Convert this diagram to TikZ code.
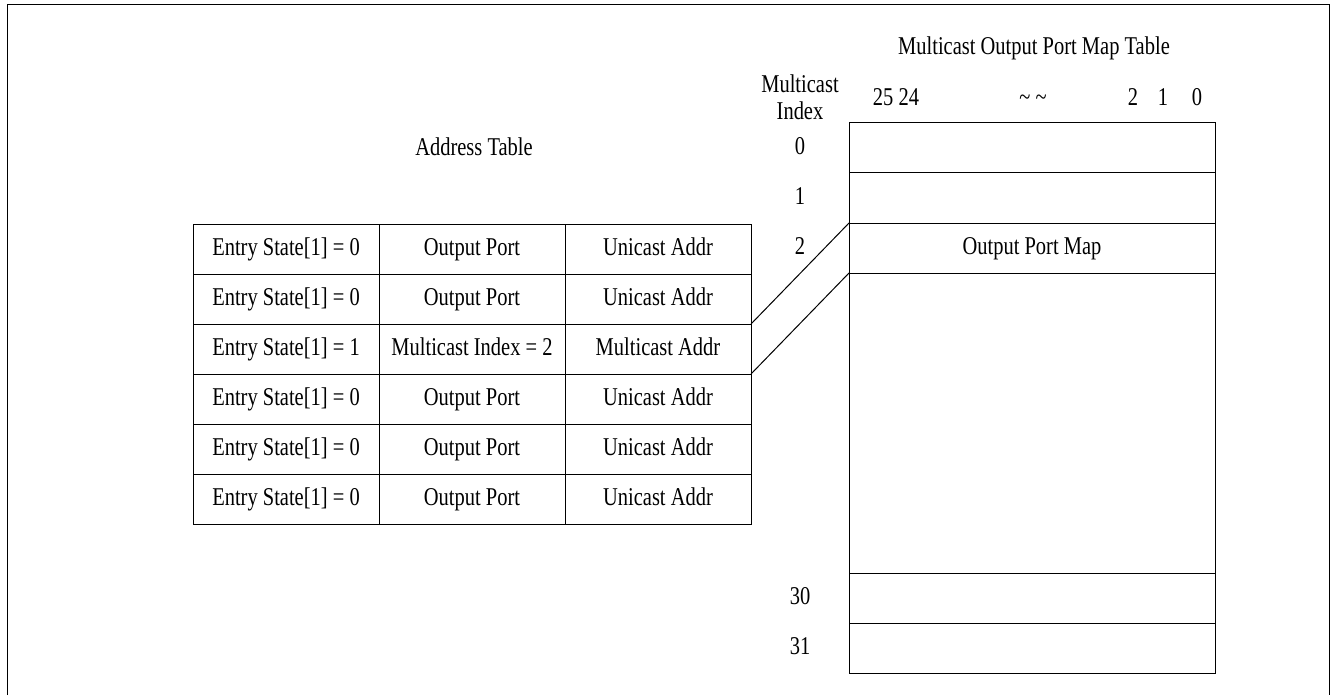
\documentclass[tikz,border=0pt]{standalone}
\usepackage{fontspec}
\setmainfont{Liberation Serif}[FakeStretch=0.8]
\usetikzlibrary{positioning}

\begin{document}
\begin{tikzpicture}[
    x=0.5pt, y=-0.5pt,
    font=\fontsize{12.8}{13.65}\selectfont,
    label/.style={inner sep=0pt, text height=0.8em, text depth=0.14em, align=center},
    cell/.style={label, rectangle, draw, line width=0.5pt, outer sep=0pt,
                 minimum width=93pt, minimum height=25pt},
    mapcell/.style={cell, minimum width=183pt},
    bit/.style={inner sep=0pt, anchor=base},
    link/.style={line width=0.5pt}
]
    \useasboundingbox (0,0) rectangle (1331,695);
    \draw[line width=0.5pt] (7,695) -- (7,5) -- (1329,5) -- (1329,695);

    % address table
    \node[label] (atitle) at (474,149) {Address Table};
    \node[cell] (s1) at (286,249) {Entry State[1] = 0};
    \node[cell, right=0pt of s1] (p1) {Output Port};
    \node[cell, right=0pt of p1] (a1) {Unicast Addr};
    \node[cell, below=0pt of s1] (s2) {Entry State[1] = 0};
    \node[cell, right=0pt of s2] (p2) {Output Port};
    \node[cell, right=0pt of p2] (a2) {Unicast Addr};
    \node[cell, below=0pt of s2] (s3) {Entry State[1] = 1};
    \node[cell, right=0pt of s3] (p3) {Multicast Index = 2};
    \node[cell, right=0pt of p3] (a3) {Multicast Addr};
    \node[cell, below=0pt of s3] (s4) {Entry State[1] = 0};
    \node[cell, right=0pt of s4] (p4) {Output Port};
    \node[cell, right=0pt of p4] (a4) {Unicast Addr};
    \node[cell, below=0pt of s4] (s5) {Entry State[1] = 0};
    \node[cell, right=0pt of s5] (p5) {Output Port};
    \node[cell, right=0pt of p5] (a5) {Unicast Addr};
    \node[cell, below=0pt of s5] (s6) {Entry State[1] = 0};
    \node[cell, right=0pt of s6] (p6) {Output Port};
    \node[cell, right=0pt of p6] (a6) {Unicast Addr};

    % multicast output port map table
    \node[label] (mtitle) at (1034,48) {Multicast Output Port Map Table};
    \node[inner sep=0pt, align=center] (mindex) at (800,97.5) {Multicast\\Index};
    \node[bit] (b25) at (896,106) {25 24};
    \node[bit] (btilde) at (1033,106) {\textasciitilde\ \textasciitilde};
    \node[bit] (b2) at (1133,106) {2};
    \node[bit] (b1) at (1163,106) {1};
    \node[bit] (b0) at (1197,106) {0};
    \node[mapcell] (m0) at (1032,148) {};
    \node[mapcell, below=0pt of m0] (m1) {};
    \node[mapcell, below=0pt of m1] (m2) {Output Port Map};
    \node[mapcell, below=0pt of m2, minimum height=150pt] (mgap) {};
    \node[mapcell, below=0pt of mgap] (m30) {};
    \node[mapcell, below=0pt of m30] (m31) {};
    \node[label] (i0) at (mindex |- m0) {0};
    \node[label] (i1) at (mindex |- m1) {1};
    \node[label] (i2) at (mindex |- m2) {2};
    \node[label] (i30) at (mindex |- m30) {30};
    \node[label] (i31) at (mindex |- m31) {31};

    \draw[link] (a3.north east) -- (m2.north west);
    \draw[link] (a3.south east) -- (m2.south west);
\end{tikzpicture}
\end{document}
